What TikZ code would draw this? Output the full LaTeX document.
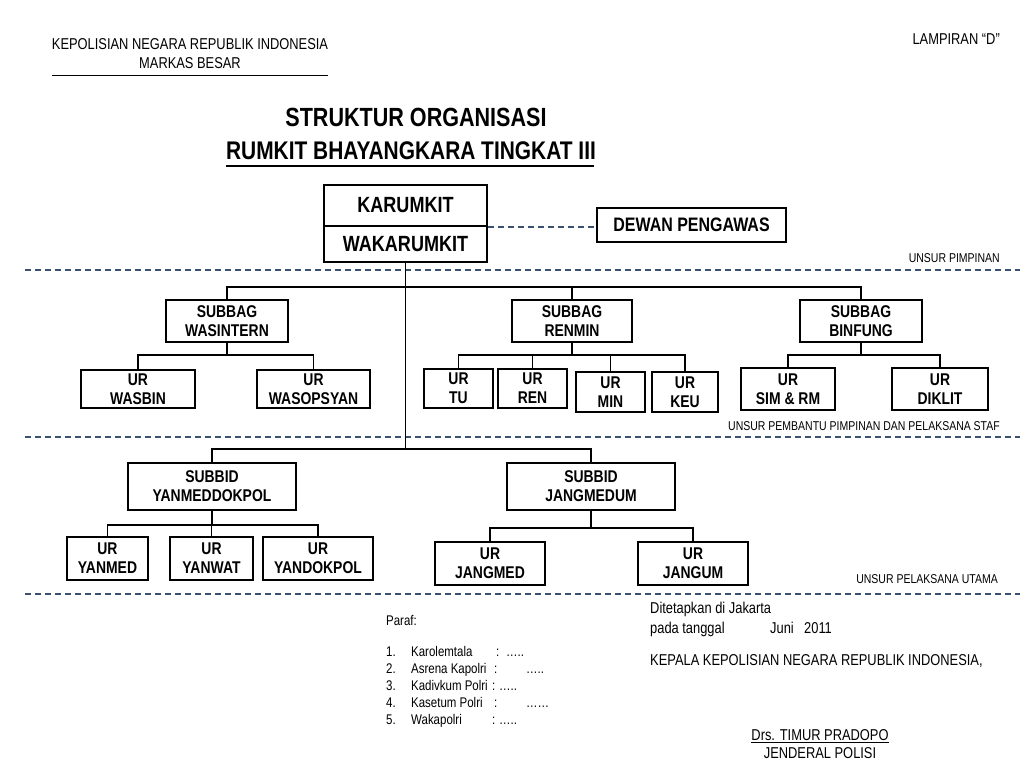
\documentclass[tikz,border=0pt]{standalone}
\usepackage{fontspec}
\setmainfont{Liberation Sans}[FakeStretch=0.82]
\begin{document}
\begin{tikzpicture}[x=1pt,y=-1pt,
  box/.style={draw, line width=1.8pt, inner sep=0pt, align=center,
    font=\bfseries\fontsize{17}{19}\selectfont},
  bigbox/.style={box, font=\bfseries\fontsize{22}{24}\selectfont},
  conn/.style={line width=1.8pt},
  sep/.style={draw=sepcol, line width=1.3pt, dash pattern=on 6pt off 4pt},
  lab/.style={inner sep=0pt, font=\fontsize{15.7}{18}\selectfont},
  smalllab/.style={inner sep=0pt, font=\fontsize{12.8}{15}\selectfont},
  listlab/.style={inner sep=0pt, font=\fontsize{14}{16}\selectfont},
  titlelab/.style={inner sep=0pt, font=\bfseries\fontsize{26.3}{28}\selectfont}]
\definecolor{sepcol}{HTML}{3A5070}
\useasboundingbox[fill=white] (0,0) rectangle (1024,768);

% header
\node[lab, anchor=base] (h1) at (190,49.6) {KEPOLISIAN NEGARA REPUBLIK INDONESIA};
\node[lab, anchor=base] (h2) at (190,68.6) {MARKAS BESAR};
\coordinate (hl) at (52,75);
\coordinate (hr) at (328,75);
\draw[line width=1pt] (hl) -- (hr);
\node[lab, anchor=base east] (lamp) at (1000,45) {LAMPIRAN “D”};

% title
\node[titlelab, anchor=base] (t1) at (416,126.5) {STRUKTUR ORGANISASI};
\node[titlelab, font=\bfseries\fontsize{25.5}{28}\selectfont, anchor=base] (t2) at (411,159) {RUMKIT BHAYANGKARA TINGKAT III};
\coordinate (tl) at (226,166);
\coordinate (tr) at (594,166);
\draw[line width=1.4pt] (tl) -- (tr);

% top boxes
\node[bigbox, minimum width=163pt, minimum height=41pt] (kar) at (405.5,205.5) {KARUMKIT};
\node[bigbox, minimum width=163pt, minimum height=36pt] (wak) at (405.5,244) {WAKARUMKIT};
\node[box, font=\bfseries\fontsize{19.5}{22}\selectfont, minimum width=189pt, minimum height=34pt] (dewan) at (691.5,225) {DEWAN PENGAWAS};
\draw[sep] (kar.south east) -- (kar.south east -| dewan.west);

% separators
\coordinate (s1l) at (25,270); \coordinate (s1r) at (1020,270);
\coordinate (s2l) at (25,437); \coordinate (s2r) at (1020,437);
\coordinate (s3l) at (25,594); \coordinate (s3r) at (1020,594);
\draw[sep] (s1l) -- (s1r);
\draw[sep] (s2l) -- (s2r);
\draw[sep] (s3l) -- (s3r);
\node[smalllab, anchor=base east] (u1) at (1000,262.5) {UNSUR PIMPINAN};
\node[smalllab, anchor=base east] (u2) at (1000,430.5) {UNSUR PEMBANTU PIMPINAN DAN PELAKSANA STAF};
\node[smalllab, anchor=base east] (u3) at (998,583.5) {UNSUR PELAKSANA UTAMA};

% SUBBAG row
\node[box, minimum width=122pt, minimum height=42pt] (sbw) at (227,321) {SUBBAG\\WASINTERN};
\node[box, minimum width=120pt, minimum height=42pt] (sbr) at (572,321) {SUBBAG\\RENMIN};
\node[box, minimum width=122pt, minimum height=42pt] (sbb) at (861,321) {SUBBAG\\BINFUNG};

\node[box, minimum width=114pt, minimum height=38pt] (urwb) at (138,389) {UR\\WASBIN};
\node[box, minimum width=113pt, minimum height=38pt] (urwo) at (313.5,389) {UR\\WASOPSYAN};
\node[box, minimum width=69pt, minimum height=39pt] (urtu) at (458.5,388.5) {UR\\TU};
\node[box, minimum width=69pt, minimum height=39pt] (urren) at (532.5,388.5) {UR\\REN};
\node[box, minimum width=69pt, minimum height=40pt] (urmin) at (610.5,392) {UR\\MIN};
\node[box, minimum width=66pt, minimum height=40pt] (urkeu) at (685,392) {UR\\KEU};
\node[box, minimum width=94pt, minimum height=42pt] (ursim) at (788,389) {UR\\SIM \& RM};
\node[box, minimum width=96pt, minimum height=42pt] (urdik) at (940,389) {UR\\DIKLIT};

% SUBBID row
\node[box, minimum width=168pt, minimum height=47pt] (sbyd) at (212,486.5) {SUBBID\\YANMEDDOKPOL};
\node[box, minimum width=168pt, minimum height=47pt] (sbjm) at (591,486.5) {SUBBID\\JANGMEDUM};

\node[box, minimum width=81pt, minimum height=43pt] (urym) at (107.5,558.5) {UR\\YANMED};
\node[box, minimum width=83pt, minimum height=43pt] (uryw) at (211.5,558.5) {UR\\YANWAT};
\node[box, minimum width=110pt, minimum height=43pt] (uryd) at (318,558.5) {UR\\YANDOKPOL};
\node[box, minimum width=110pt, minimum height=43pt] (urjm) at (490,563.5) {UR\\JANGMED};
\node[box, minimum width=110pt, minimum height=43pt] (urjg) at (693,563.5) {UR\\JANGUM};

% connectors
\coordinate (ya) at (0,287);
\coordinate (yb) at (0,449);
\coordinate (yc) at (0,355);
\coordinate (yd) at (0,525);
\coordinate (ye) at (0,528);
\coordinate (tb) at (405.5,449);
\draw[conn] (wak.south) -- (tb);
\draw[conn] (sbw.north) -- (sbw.north |- ya) -- (sbb.north |- ya) -- (sbb.north);
\draw[conn] (sbr.north) -- (sbr.north |- ya);
\draw[conn] (sbyd.north) -- (sbyd.north |- yb) -- (sbjm.north |- yb) -- (sbjm.north);

\draw[conn] (sbw.south) -- (sbw.south |- yc);
\draw[conn] (urwb.north) -- (urwb.north |- yc) -- (urwo.north |- yc) -- (urwo.north);

\draw[conn] (sbr.south) -- (sbr.south |- yc);
\draw[conn] (urtu.north) -- (urtu.north |- yc) -- (urkeu.north |- yc) -- (urkeu.north);
\draw[conn] (urren.north) -- (urren.north |- yc);
\draw[conn] (urmin.north) -- (urmin.north |- yc);

\draw[conn] (sbb.south) -- (sbb.south |- yc);
\draw[conn] (ursim.north) -- (ursim.north |- yc) -- (urdik.north |- yc) -- (urdik.north);

\draw[conn] (sbyd.south) -- (sbyd.south |- yd);
\draw[conn] (urym.north) -- (urym.north |- yd) -- (uryd.north |- yd) -- (uryd.north);
\draw[conn] (uryw.north) -- (uryw.north |- yd);

\draw[conn] (sbjm.south) -- (sbjm.south |- ye);
\draw[conn] (urjm.north) -- (urjm.north |- ye) -- (urjg.north |- ye) -- (urjg.north);

% paraf
\node[listlab, anchor=base west] (paraf) at (386,625) {Paraf:};
\node[listlab, anchor=base west] (n1) at (386,656) {1.};
\node[listlab, anchor=base west] (n2) at (386,673) {2.};
\node[listlab, anchor=base west] (n3) at (386,690) {3.};
\node[listlab, anchor=base west] (n4) at (386,707) {4.};
\node[listlab, anchor=base west] (n5) at (386,724) {5.};
\node[listlab, anchor=base west] (p1) at (411,656) {Karolemtala};
\node[listlab, anchor=base west] (p2) at (411,673) {Asrena Kapolri};
\node[listlab, anchor=base west] (p3) at (411,690) {Kadivkum Polri};
\node[listlab, anchor=base west] (p4) at (411,707) {Kasetum Polri};
\node[listlab, anchor=base west] (p5) at (411,724) {Wakapolri};
\node[listlab, anchor=base west] (c1) at (496,656) {:};
\node[listlab, anchor=base west] (c2) at (494,673) {:};
\node[listlab, anchor=base west] (c3) at (492,690) {:};
\node[listlab, anchor=base west] (c4) at (494,707) {:};
\node[listlab, anchor=base west] (c5) at (492,724) {:};
\node[listlab, anchor=base west] (d1) at (506,656) {…..};
\node[listlab, anchor=base west] (d2) at (526,673) {…..};
\node[listlab, anchor=base west] (d3) at (499,690) {…..};
\node[listlab, anchor=base west] (d4) at (526,707) {……};
\node[listlab, anchor=base west] (d5) at (499,724) {…..};

% signature block
\node[lab, anchor=base west] (r1) at (650,613.6) {Ditetapkan di Jakarta};
\node[lab, anchor=base west] (r2) at (650,633.6) {pada tanggal};
\node[lab, anchor=base west] (r2b) at (770,633.6) {Juni};
\node[lab, anchor=base west] (r2c) at (804,633.6) {2011};
\node[lab, anchor=base west] (r3) at (650,665.6) {KEPALA KEPOLISIAN NEGARA REPUBLIK INDONESIA,};
\node[lab, anchor=base] (r4) at (820,740.6) {\underline{Drs. TIMUR PRADOPO}};
\node[lab, anchor=base] (r5) at (820,758.6) {JENDERAL POLISI};
\end{tikzpicture}
\end{document}
